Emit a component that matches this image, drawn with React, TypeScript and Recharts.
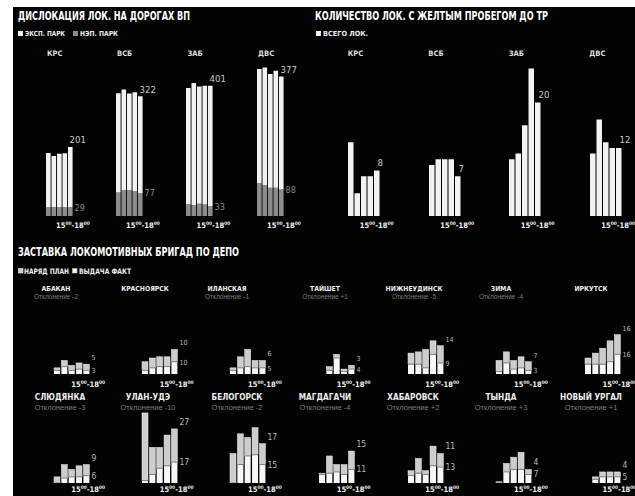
import React from 'react';
import { BarChart, Bar, XAxis, YAxis, LabelList } from 'recharts';

const NARROW = '"Liberation Sans Narrow", "DejaVu Sans Condensed", "Arial Narrow", sans-serif';
const SANS = '"Liberation Sans", Arial, sans-serif';

// five time slots between 15:00 and 18:00
const SLOTS = ['15:00', '15:45', '16:30', '17:15', '18:00'];

// top left: locomotive dislocation by road
const ROADS = ['КРС', 'ВСБ', 'ЗАБ', 'ДВС'];
const EKSP_PARK = [
  [180, 170, 177, 179, 201],
  [331, 335, 321, 329, 322],
  [386, 407, 390, 396, 401],
  [381, 392, 379, 390, 377],
];
const NEP_PARK = [
  [30, 30, 30, 30, 29],
  [78, 86, 87, 83, 77],
  [40, 36, 41, 38, 33],
  [109, 103, 94, 94, 88],
];

// top right: locomotives with yellow run before TR
const YELLOW_RUN = [
  [13, 4, 7, 7, 8],
  [9, 10, 10, 10, 7],
  [10, 11, 16, 26, 20],
  [11, 17, 13, 12, 12],
];

// bottom: crews by depot
const DEPOTS = [
  'АБАКАН', 'КРАСНОЯРСК', 'ИЛАНСКАЯ', 'ТАЙШЕТ', 'НИЖНЕУДИНСК', 'ЗИМА', 'ИРКУТСК',
  'СЛЮДЯНКА', 'УЛАН-УДЭ', 'БЕЛОГОРСК', 'МАГДАГАЧИ', 'ХАБАРОВСК', 'ТЫНДА', 'НОВЫЙ УРГАЛ',
];
const DEVIATION: (number | null)[] = [-2, null, -1, 1, -5, -4, null, -3, -10, -2, -4, 2, 3, 1];
const FACT = [
  [3, 6, 3, 4, 3],
  [3, 5, 6, 6, 10],
  [3, 5, 6, 5, 5],
  [0, 3, 13, 2, 4],
  [8, 8, 5, 16, 9],
  [2, 9, 4, 5, 3],
  [8, 8, 8, 10, 16],
  [0, 4, 5, 5, 6],
  [2, 7, 12, 14, 17],
  [0, 15, 22, 23, 15],
  [7, 8, 9, 7, 11],
  [6, 8, 7, 14, 13],
  [0, 9, 11, 11, 7],
  [0, 3, 5, 5, 5],
];
const PLAN = [
  [2, 5, 4, 5, 5],
  [7, 8, 8, 8, 10],
  [2, 9, 14, 6, 6],
  [0, 3, 3, 2, 3],
  [9, 10, 15, 11, 14],
  [9, 9, 7, 9, 7],
  [5, 9, 13, 17, 16],
  [5, 11, 6, 9, 9],
  [55, 22, 17, 25, 27],
  [24, 25, 15, 22, 17],
  [1, 14, 6, 8, 15],
  [4, 12, 3, 16, 11],
  [1, 7, 10, 14, 4],
  [0, 2, 4, 4, 4],
];

// layout
const TOP_BOTTOM = 216;
const TL_START = [46, 116, 186.5, 257];
const TR_START = [347.7, 428.3, 508.7, 589.3];
const DEPOT_START = [53.3, 141.7, 230, 318.7, 407.3, 496, 584.6];
const NAME_X = [
  [56, 145, 227, 325, 414, 501, 591],
  [60, 148, 237, 325, 413, 501, 591],
];
const ROW_BOTTOM = [374, 483.3];
const ROW_H = [45, 75];
const ROW_MAX = [36.6, 61];
const M_TOP = 16;
const M_RIGHT = 26;

type Seg = { key: string; fill: string; label?: (p: any) => React.ReactNode; shape?: (p: any) => React.ReactElement };

const rows = (cols: Record<string, number[]>) =>
  SLOTS.map((slot, i) => {
    const r: any = { slot };
    Object.entries(cols).forEach(([k, arr]) => {
      r[k] = arr[i];
      r[k + 'Lab'] = i === SLOTS.length - 1 ? arr[i] : null;
    });
    return r;
  });

const valueLabel = (dx: number, dy: number, size: number, color: string) => (p: any) => {
  if (p.value == null) return null;
  const v = p.viewBox && p.viewBox.width != null ? p.viewBox : p;
  return (
    <text x={Number(v.x) + Number(v.width) + dx} y={Number(v.y) + dy} fontSize={size} fill={color} fontFamily={NARROW}>
      {p.value}
    </text>
  );
};

const planShape = (p: any) => {
  if (!p.height) return <g />;
  return (
    <g>
      <rect x={p.x} y={p.y} width={p.width} height={p.height} fill="#cdcdcd" stroke="#ececec" strokeWidth={0.5} />
      <line x1={p.x} x2={p.x + p.width} y1={p.y + p.height} y2={p.y + p.height} stroke="#6a6a6a" strokeWidth={0.8} />
    </g>
  );
};

function Mini({ data, start, bottom, height, pitch, barW, max, segs }: {
  data: any[]; start: number; bottom: number; height: number; pitch: number; barW: number; max: number; segs: Seg[];
}) {
  const left = start - (pitch - barW) / 2;
  return (
    <div style={{ position: 'absolute', left, top: bottom - height - M_TOP }}>
      <BarChart
        width={pitch * data.length + M_RIGHT}
        height={height + M_TOP}
        data={data}
        margin={{ top: M_TOP, right: M_RIGHT, bottom: 0, left: 0 }}
        barSize={barW}
      >
        <XAxis dataKey="slot" hide />
        <YAxis hide domain={[0, max]} allowDataOverflow />
        {segs.map((s) => (
          <Bar key={s.key} dataKey={s.key} stackId="a" fill={s.fill} isAnimationActive={false} shape={s.shape as any}>
            {s.label && <LabelList dataKey={s.key + 'Lab'} content={s.label as any} />}
          </Bar>
        ))}
      </BarChart>
    </div>
  );
}

function TimeLabel({ x, y, size }: { x: number; y: number; size: number }) {
  const sup = size * 0.65;
  return (
    <text x={x} y={y} fontSize={size} fontWeight="bold" fill="#f0f0f0" fontFamily={NARROW}>
      15<tspan fontSize={sup} dy={-size * 0.4}>00</tspan>
      <tspan dy={size * 0.4}>-18</tspan>
      <tspan fontSize={sup} dy={-size * 0.4}>00</tspan>
    </text>
  );
}

export default function App() {
  return (
    <div style={{ position: 'absolute', left: 0, top: 0, width: 635, height: 496, background: '#fff', overflow: 'hidden' }}>
      <div style={{ position: 'absolute', left: 13, top: 7, width: 622, height: 489, background: '#030303' }} />

      {ROADS.map((r, i) => (
        <Mini
          key={'tl' + r}
          data={rows({ nep: NEP_PARK[i], eksp: EKSP_PARK[i] })}
          start={TL_START[i]}
          bottom={TOP_BOTTOM}
          height={160}
          pitch={5.5}
          barW={4.6}
          max={533}
          segs={[
            { key: 'nep', fill: '#8c8c8c', label: valueLabel(2, 3.5, 9, '#8a8a8a') },
            { key: 'eksp', fill: '#f2f2f2', label: valueLabel(-3, -3.5, 9.5, '#c8c8c8') },
          ]}
        />
      ))}

      {ROADS.map((r, i) => (
        <Mini
          key={'tr' + r}
          data={rows({ total: YELLOW_RUN[i] })}
          start={TR_START[i]}
          bottom={TOP_BOTTOM}
          height={160}
          pitch={6.5}
          barW={5.5}
          max={28.2}
          segs={[{ key: 'total', fill: '#f2f2f2', label: valueLabel(-2, -4.5, 9.5, '#c8c8c8') }]}
        />
      ))}

      {DEPOTS.map((d, i) => {
        const row = i < 7 ? 0 : 1;
        const col = i % 7;
        const fs = row === 0 ? 7 : 8.5;
        return (
          <Mini
            key={d}
            data={rows({ fact: FACT[i], plan: PLAN[i] })}
            start={DEPOT_START[col]}
            bottom={ROW_BOTTOM[row]}
            height={ROW_H[row]}
            pitch={7.35}
            barW={6}
            max={ROW_MAX[row]}
            segs={[
              { key: 'fact', fill: '#f8f8f8', label: valueLabel(2, 3, fs, '#b8b8b8') },
              { key: 'plan', fill: '#cdcdcd', shape: planShape, label: valueLabel(2, -4, fs, '#b8b8b8') },
            ]}
          />
        );
      })}

      <svg width={635} height={496} style={{ position: 'absolute', left: 0, top: 0, pointerEvents: 'none' }}>
        {/* titles */}
        <text x={18} y={20} fontSize={13} fontWeight="bold" fill="#fff" fontFamily={NARROW} textLength={172} lengthAdjust="spacingAndGlyphs">
          ДИСЛОКАЦИЯ ЛОК. НА ДОРОГАХ ВП
        </text>
        <text x={315} y={20} fontSize={13} fontWeight="bold" fill="#fff" fontFamily={NARROW} textLength={233} lengthAdjust="spacingAndGlyphs">
          КОЛИЧЕСТВО ЛОК. С ЖЕЛТЫМ ПРОБЕГОМ ДО ТР
        </text>
        <text x={18} y={256} fontSize={12} fontWeight="bold" fill="#fff" fontFamily={NARROW} textLength={221} lengthAdjust="spacingAndGlyphs">
          ЗАСТАВКА ЛОКОМОТИВНЫХ БРИГАД ПО ДЕПО
        </text>

        {/* legends */}
        <rect x={18} y={31} width={5} height={5} fill="#f2f2f2" />
        <text x={25} y={36} fontSize={7} fontWeight="bold" fill="#eee" fontFamily={NARROW} textLength={40} lengthAdjust="spacingAndGlyphs">ЭКСП. ПАРК</text>
        <rect x={73} y={31} width={5} height={5} fill="#8c8c8c" />
        <text x={80} y={36} fontSize={7} fontWeight="bold" fill="#eee" fontFamily={NARROW} textLength={38} lengthAdjust="spacingAndGlyphs">НЭП. ПАРК</text>

        <rect x={316} y={31} width={5} height={5} fill="#f2f2f2" />
        <text x={323} y={36} fontSize={7} fontWeight="bold" fill="#eee" fontFamily={NARROW} textLength={45} lengthAdjust="spacingAndGlyphs">ВСЕГО ЛОК.</text>

        <rect x={18.5} y={268.5} width={4.5} height={4.5} fill="#cdcdcd" stroke="#eee" strokeWidth={0.6} />
        <text x={24} y={273.5} fontSize={7.5} fontWeight="bold" fill="#eee" fontFamily={NARROW} textLength={45} lengthAdjust="spacingAndGlyphs">НАРЯД ПЛАН</text>
        <rect x={72.5} y={268.5} width={4.5} height={4.5} fill="#f8f8f8" stroke="#bbb" strokeWidth={0.6} />
        <text x={79} y={273.5} fontSize={7.5} fontWeight="bold" fill="#eee" fontFamily={NARROW} textLength={52} lengthAdjust="spacingAndGlyphs">ВЫДАЧА ФАКТ</text>

        {/* road names and time ranges */}
        {ROADS.map((r, i) => (
          <g key={'tln' + r}>
            <text x={TL_START[i] + 1} y={55.5} fontSize={7.5} fontWeight="bold" fill="#ddd" fontFamily={NARROW}>{r}</text>
            <TimeLabel x={TL_START[i] + 10} y={228} size={7.5} />
            <text x={TR_START[i]} y={55.5} fontSize={7.5} fontWeight="bold" fill="#ddd" fontFamily={NARROW}>{r}</text>
            <TimeLabel x={TR_START[i] + 12} y={228} size={7.5} />
          </g>
        ))}

        {/* depot names, deviations, time ranges */}
        {DEPOTS.map((d, i) => {
          const row = i < 7 ? 0 : 1;
          const col = i % 7;
          const dev = DEVIATION[i];
          return (
            <g key={'dn' + d}>
              <text x={NAME_X[row][col]} y={row === 0 ? 290.5 : 400} textAnchor="middle" fontSize={row === 0 ? 6.8 : 8.2} fontWeight="bold" fill="#eee" fontFamily={NARROW}>
                {d}
              </text>
              {dev != null && (
                <text x={NAME_X[row][col]} y={row === 0 ? 298.5 : 409.5} textAnchor="middle" fontSize={row === 0 ? 6.5 : 7.5} fill="#7c7c7c" fontFamily={SANS}>
                  {`Отклонение ${dev > 0 ? '+' : ''}${dev}`}
                </text>
              )}
              <TimeLabel x={DEPOT_START[col] + 18} y={row === 0 ? 387 : 491.5} size={7.5} />
            </g>
          );
        })}
      </svg>
    </div>
  );
}
